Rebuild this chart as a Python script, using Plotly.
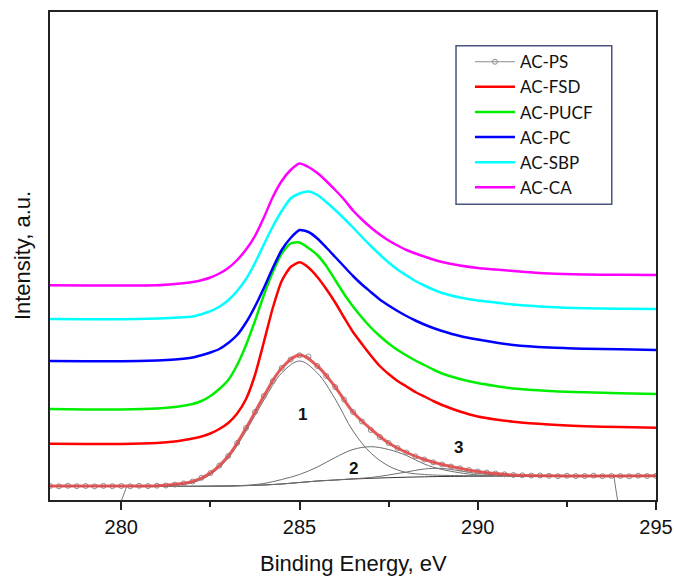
import plotly.graph_objects as go

# Binding energy grid (eV) for the stacked C 1s spectra
energy = [278, 279, 280, 281, 281.5,
          282, 282.25, 282.5, 282.75, 283, 283.25, 283.5, 283.75,
          284, 284.25, 284.5, 284.75, 285, 285.25, 285.5, 285.75,
          286, 286.25, 286.5, 286.75, 287, 287.25, 287.5, 287.75,
          288, 288.25, 288.5, 288.75, 289,
          289.5, 290, 290.5, 291, 292, 293, 294, 295]

# Stacked spectra (offset intensities, a.u.)
ac_fsd = [56.3, 56, 56, 57, 58.5,
          61.5, 63.5, 66.5, 71, 77, 86.5, 101, 125,
          158, 192, 219, 233, 237.7, 232.5, 223, 211,
          197.5, 182.5, 168, 156, 144.5, 134, 126, 119,
          113.5, 108, 103.5, 99, 95,
          88.5, 83.5, 80.5, 78.3, 75.5, 73.8, 73, 72.3]
ac_pucf = [91, 90.5, 90.5, 91.5, 93,
           96, 99, 104, 111, 120, 135, 155, 179,
           205, 228, 246.5, 256.5, 257.5, 252, 245, 234,
           220, 206, 193.5, 182.5, 172.5, 164, 156.5, 150,
           144.5, 139.5, 135, 130.5, 126.5,
           121, 117, 114, 111.5, 109, 107.7, 106.8, 106]
ac_pc = [139, 138.7, 138.7, 139.5, 140.5,
         142.5, 144.8, 147.5, 151, 157, 165, 177.5, 193.5,
         212, 232, 250, 262, 270, 268, 261.5, 252.5,
         243, 233.5, 224, 215.5, 208, 200.5, 194.5, 189,
         184, 179.5, 175.5, 172, 169,
         164, 160.5, 157.5, 155, 152.5, 151.3, 150.7, 150]
ac_sbp = [181, 180.7, 180.7, 181.5, 182.3,
          183.5, 185.8, 188.8, 193.3, 199.8, 209, 221, 237,
          255.5, 273.5, 289, 301.5, 306.5, 308.5, 305, 298,
          290, 281.5, 272.5, 263, 254, 245.5, 237.5, 230.5,
          224.5, 219, 214.5, 210.5, 207,
          202.5, 199.5, 197.5, 195.5, 193, 191.7, 191.2, 191]
ac_ca = [214.7, 214.5, 214.5, 214.7, 216,
         218, 219.8, 222.5, 226.5, 232, 240, 250.5, 264,
         282.5, 303, 319, 330, 336.5, 333, 327, 319,
         310, 300.5, 289.5, 280.5, 272.5, 265.5, 259.5, 254.5,
         250, 246.5, 243.5, 240.5, 238,
         234.5, 232, 230.5, 229, 226.5, 225.5, 225.2, 225]

# AC-PS measured points
ps_energy = [278.00, 278.25, 278.50, 278.75, 279.00, 279.25, 279.50, 279.75,
             280.00, 280.25, 280.50, 280.75, 281.00, 281.25, 281.50, 281.75,
             282.00, 282.25, 282.50, 282.75, 283.00, 283.25, 283.50, 283.75,
             284.00, 284.25, 284.50, 284.75, 285.00, 285.25, 285.50, 285.75,
             286.00, 286.25, 286.50, 286.75, 287.00, 287.25, 287.50, 287.75,
             288.00, 288.25, 288.50, 288.75, 289.00, 289.25, 289.50, 289.75,
             290.00, 290.25, 290.50, 290.75, 291.00, 291.25, 291.50, 291.75,
             292.00, 292.25, 292.50, 292.75, 293.00, 293.25, 293.50, 293.75,
             294.00, 294.25, 294.50, 294.75, 295.00]
ps_counts = [14, 13.7, 14.2, 13.8, 14, 13.6, 14.1, 13.8,
             14, 13.7, 14.2, 13.9, 14.3, 14.5, 15.4, 16.6,
             18.5, 22.2, 27, 34.5, 44, 57, 72, 88,
             104, 119, 132, 140.5, 144.7, 143.5, 134, 124,
             113, 100.5, 88, 78.5, 70, 63, 57, 52,
             47.5, 43.7, 40.5, 37.7, 35.5, 33.5, 31.7, 30,
             28.5, 27.5, 26.5, 25.7, 25, 24.7, 24.4, 24.5,
             24.2, 23.8, 24.3, 23.9, 24, 24.4, 23.8, 24.1,
             24, 23.7, 24.3, 24, 24.2]

# AC-PS peak fit: envelope, background and components 1-3
fit_energy = [278, 279, 280, 281, 282, 282.5, 283, 283.5, 284, 284.5, 285, 285.5,
              286, 286.5, 287, 287.5, 288, 288.5, 289, 290, 291, 292, 293, 294, 295]
ps_envelope = [14, 14, 14, 14.3, 18.5, 27, 44, 72, 104, 132, 145, 134,
               113, 88, 71, 57, 47.5, 40.5, 35.5, 28.5, 25, 24.2, 24, 24, 24.2]
ps_background = [13.5, 13.5, 13.5, 13.6, 13.7, 13.8, 14, 14.4, 15, 16, 17.5, 19,
                 20, 21, 21.7, 22.3, 22.8, 23.2, 23.5, 23.8, 24, 24.1, 24.2, 24.2, 24.2]
ps_peak1 = [13.5, 13.5, 13.5, 13.7, 17.5, 25.5, 42, 69, 100, 127, 139, 127,
            101, 69, 47, 34, 27.5, 25.5, 24.7, 24.3, 24.2, 24.2, 24.2, 24.2, 24.2]
ps_peak2 = [13.5, 13.5, 13.5, 13.7, 13.7, 13.8, 14, 14.7, 16.5, 20.5, 25.5, 33,
            42.5, 50.5, 53.3, 50.5, 44.5, 36, 30.5, 25, 24, 24.1, 24.2, 24.2, 24.2]
ps_peak3 = [13.5, 13.5, 13.5, 13.6, 13.7, 13.8, 14, 14.4, 15, 16, 17.5, 19,
            20, 21.2, 22.5, 25, 28, 31, 31.5, 26.5, 24.2, 24.1, 24.2, 24.2, 24.2]

# Background limit marks
bg_limit_energy = [280.15, 280.01, None, 293.82, 293.92]
bg_limit_counts = [13.3, 0, None, 23.3, 0]

# Component labels
peak_labels = ["1", "2", "3"]
peak_label_energy = [285.07, 286.52, 289.47]
peak_label_counts = [86, 31.7, 52.7]

fig = go.Figure()

comp_style = dict(color="#6e6e6e", width=1)
fig.add_trace(go.Scatter(x=bg_limit_energy, y=bg_limit_counts, mode="lines",
                         line=dict(color="#777777", width=1), showlegend=False,
                         hoverinfo="skip"))
fig.add_trace(go.Scatter(x=fit_energy, y=ps_background, mode="lines",
                         line=dict(color="#333333", width=1), showlegend=False,
                         line_shape="spline"))
for comp in (ps_peak1, ps_peak2, ps_peak3):
    fig.add_trace(go.Scatter(x=fit_energy, y=comp, mode="lines", line=comp_style,
                             line_shape="spline", showlegend=False))

fig.add_trace(go.Scatter(x=ps_energy, y=ps_counts, mode="lines+markers", name="AC-PS",
                         line=dict(color="#8c8c8c", width=1),
                         marker=dict(symbol="circle-open", size=5, color="#8c8c8c",
                                     line=dict(width=1))))
fig.add_trace(go.Scatter(x=fit_energy, y=ps_envelope, mode="lines", showlegend=False,
                         line=dict(color="rgba(228,70,70,0.85)", width=3),
                         line_shape="spline"))

spectra = [("AC-FSD", ac_fsd, "#ff0000"),
           ("AC-PUCF", ac_pucf, "#00ee00"),
           ("AC-PC", ac_pc, "#0000ff"),
           ("AC-SBP", ac_sbp, "#00ffff"),
           ("AC-CA", ac_ca, "#ff00ff")]
for name, vals, col in spectra:
    fig.add_trace(go.Scatter(x=energy, y=vals, mode="lines", name=name,
                             line=dict(color=col, width=2.5),
                             line_shape="spline", line_smoothing=0.6))

for lab, ex, ey in zip(peak_labels, peak_label_energy, peak_label_counts):
    fig.add_annotation(x=ex, y=ey, text="<b>%s</b>" % lab, showarrow=False,
                       font=dict(family="Liberation Sans, Arial", size=17, color="#111111"))

fig.add_annotation(xref="paper", yref="paper", x=-0.046, y=0.5, text="Intensity, a.u.",
                   textangle=-90, showarrow=False, xanchor="center", yanchor="middle",
                   font=dict(family="Liberation Sans, Arial", size=22, color="#111111"))
fig.add_annotation(xref="paper", yref="paper", x=0.5, y=-0.13, text="Binding Energy, eV",
                   showarrow=False, xanchor="center", yanchor="middle",
                   font=dict(family="Liberation Sans, Arial", size=22, color="#111111"))

# legend frame
fig.add_shape(type="rect", xref="paper", yref="paper",
              x0=0.67, x1=0.927, y0=0.606, y1=0.931,
              line=dict(color="#4a5580", width=1.5), fillcolor="white", layer="below")

fig.update_layout(
    width=674, height=576,
    margin=dict(l=50, r=18, t=12, b=76),
    paper_bgcolor="white", plot_bgcolor="white",
    showlegend=True,
    legend=dict(x=0.693, y=0.934, xanchor="left", yanchor="top",
                bgcolor="rgba(0,0,0,0)", borderwidth=0,
                font=dict(family="Lato, Carlito, sans-serif", size=17, color="#111111"),
                tracegroupgap=0, itemwidth=40),
    xaxis=dict(range=[278, 295], tickmode="linear", tick0=280, dtick=5,
               ticks="outside", ticklen=8, tickwidth=1.5, tickcolor="#222222",
               minor=dict(ticks="outside", ticklen=5, tickwidth=1.5, dtick=2.5,
                          tick0=280, tickcolor="#222222"),
               showline=True, linecolor="#222222", linewidth=1.5, mirror=True,
               showgrid=False, zeroline=False, automargin=False,
               tickfont=dict(family="Liberation Sans, Arial", size=20, color="#111111")),
    yaxis=dict(range=[0, 488], showticklabels=False, ticks="",
               showline=True, linecolor="#222222", linewidth=1.5, mirror=True,
               showgrid=False, zeroline=False, automargin=False),
)

fig.write_html("out.html")
